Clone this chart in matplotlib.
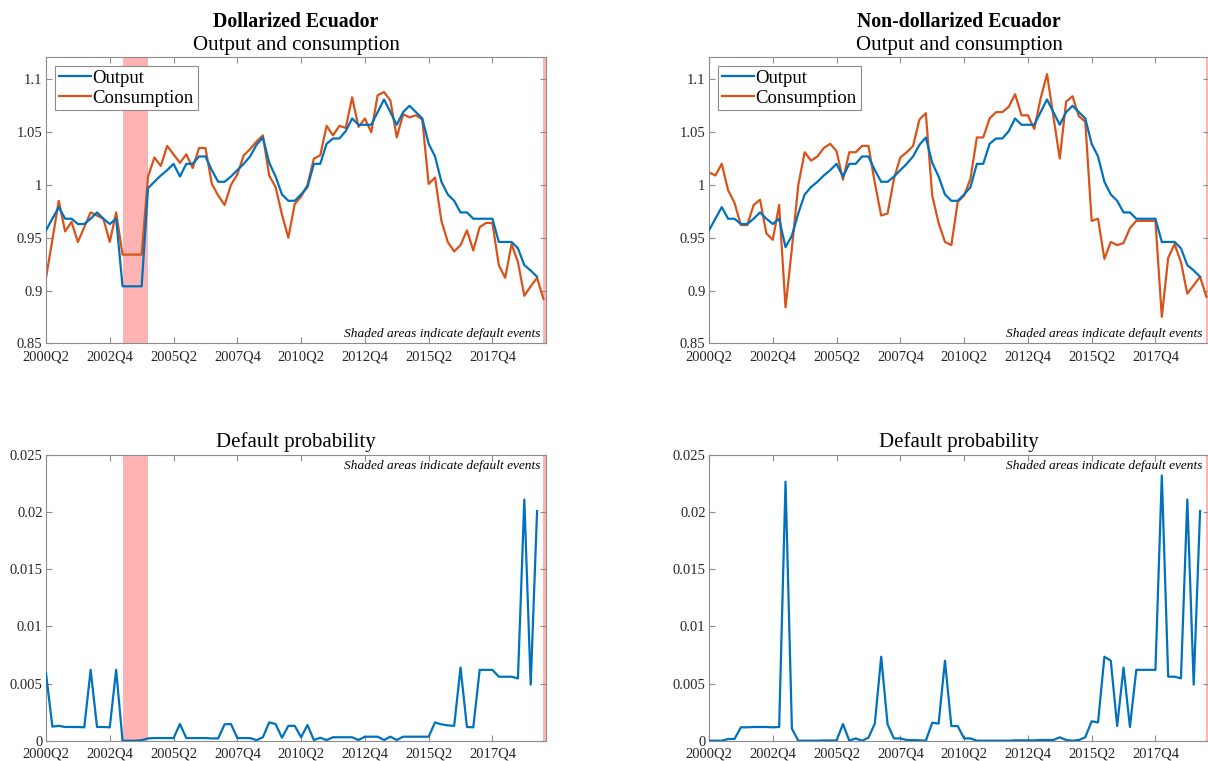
import numpy as np
import matplotlib
matplotlib.use("Agg")
import matplotlib.pyplot as plt

plt.rcParams['font.family'] = ['Liberation Serif', 'DejaVu Serif']
plt.rcParams['mathtext.fontset'] = 'stix'

nan = np.nan

# quarterly sample 2000Q2 .. 2019Q4 (79 quarters)
tick_pos = [0, 10, 20, 30, 40, 50, 60, 70]
tick_labels = ['2000Q2', '2002Q4', '2005Q2', '2007Q4', '2010Q2', '2012Q4', '2015Q2', '2017Q4']

output_dol = [0.957, 0.968, 0.979, 0.968, 0.968, 0.963, 0.963, 0.968, 0.974, 0.968,
              0.963, 0.968, 0.904, 0.904, 0.904, 0.904, 0.997, 1.003, 1.009, 1.014,
              1.020, 1.008, 1.020, 1.020, 1.027, 1.027, 1.014, 1.003, 1.003, 1.008,
              1.014, 1.020, 1.027, 1.038, 1.045, 1.021, 1.008, 0.991, 0.985, 0.985,
              0.991, 0.998, 1.020, 1.020, 1.039, 1.044, 1.044, 1.051, 1.063, 1.057,
              1.057, 1.057, 1.069, 1.081, 1.069, 1.057, 1.069, 1.075, 1.069, 1.063,
              1.039, 1.027, 1.003, 0.991, 0.985, 0.974, 0.974, 0.968, 0.968, 0.968,
              0.968, 0.946, 0.946, 0.946, 0.940, 0.924, 0.919, 0.913, nan]

output_nodol = [0.957, 0.968, 0.979, 0.968, 0.968, 0.963, 0.963, 0.968, 0.974, 0.968,
                0.963, 0.968, 0.941, 0.952, 0.973, 0.991, 0.998, 1.003, 1.009, 1.014,
                1.020, 1.008, 1.020, 1.020, 1.027, 1.027, 1.014, 1.003, 1.003, 1.008,
                1.014, 1.020, 1.027, 1.038, 1.045, 1.021, 1.008, 0.991, 0.985, 0.985,
                0.991, 0.998, 1.020, 1.020, 1.039, 1.044, 1.044, 1.051, 1.063, 1.057,
                1.057, 1.057, 1.069, 1.081, 1.069, 1.057, 1.069, 1.075, 1.069, 1.063,
                1.039, 1.027, 1.003, 0.991, 0.985, 0.974, 0.974, 0.968, 0.968, 0.968,
                0.968, 0.946, 0.946, 0.946, 0.940, 0.924, 0.919, 0.913, nan]

cons_dol = [0.912, 0.948, 0.985, 0.956, 0.965, 0.946, 0.960, 0.974, 0.971, 0.968,
            0.946, 0.974, 0.934, 0.934, 0.934, 0.934, 1.008, 1.026, 1.018, 1.037,
            1.029, 1.021, 1.029, 1.016, 1.035, 1.035, 1.001, 0.990, 0.981, 1.000,
            1.010, 1.028, 1.034, 1.041, 1.047, 1.009, 0.998, 0.972, 0.950, 0.982,
            0.989, 1.000, 1.025, 1.028, 1.056, 1.047, 1.056, 1.054, 1.083, 1.055,
            1.063, 1.050, 1.085, 1.088, 1.080, 1.045, 1.067, 1.064, 1.066, 1.062,
            1.001, 1.007, 0.966, 0.946, 0.937, 0.943, 0.957, 0.938, 0.960, 0.964,
            0.964, 0.924, 0.912, 0.944, 0.927, 0.895, 0.904, 0.912, 0.892]

cons_nodol = [1.012, 1.009, 1.020, 0.995, 0.983, 0.962, 0.962, 0.981, 0.986, 0.954,
              0.948, 0.981, 0.884, 0.940, 1.000, 1.031, 1.023, 1.027, 1.035, 1.039,
              1.032, 1.005, 1.031, 1.031, 1.037, 1.037, 1.002, 0.971, 0.973, 1.006,
              1.026, 1.031, 1.037, 1.062, 1.068, 0.990, 0.964, 0.946, 0.943, 0.984,
              0.990, 1.006, 1.045, 1.045, 1.063, 1.069, 1.069, 1.074, 1.086, 1.066,
              1.066, 1.053, 1.082, 1.105, 1.065, 1.025, 1.079, 1.084, 1.065, 1.060,
              0.966, 0.968, 0.930, 0.946, 0.943, 0.945, 0.959, 0.966, 0.966, 0.966,
              0.966, 0.875, 0.931, 0.944, 0.927, 0.897, 0.905, 0.913, 0.894]

prob_dol = [0.0059, 0.00123, 0.0013, 0.0012, 0.0012, 0.0012, 0.00117, 0.0062, 0.0012, 0.0012,
            0.00117, 0.0062, 0.0, 0.0, 0.0, 0.00005, 0.0002, 0.00023, 0.00023, 0.00023,
            0.00023, 0.00146, 0.00023, 0.00023, 0.00023, 0.00023, 0.0002, 0.0002, 0.00143, 0.00146,
            0.00023, 0.00023, 0.00023, 0.00005, 0.0003, 0.0016, 0.00146, 0.00026, 0.0013, 0.0013,
            0.0003, 0.00137, 0.00006, 0.00026, 0.00006, 0.0003, 0.0003, 0.0003, 0.0003, 0.00006,
            0.00035, 0.00035, 0.00035, 0.00006, 0.00035, 0.00006, 0.00035, 0.00035, 0.00035, 0.00035,
            0.00035, 0.0016, 0.00143, 0.00134, 0.0013, 0.0064, 0.0012, 0.00117, 0.0062, 0.0062,
            0.0062, 0.0056, 0.0056, 0.0056, 0.00545, 0.0211, 0.0049, 0.0201, nan]

prob_nodol = [0.0, 0.0, 0.0, 0.00015, 0.00015, 0.00117, 0.00117, 0.0012, 0.0012, 0.0012,
              0.00117, 0.0012, 0.02266, 0.00105, 0.0, 0.0, 0.0, 0.0, 0.00002, 0.00002,
              0.00002, 0.00146, 0.0, 0.0002, 0.0, 0.00026, 0.0015, 0.00735, 0.00143, 0.0002,
              0.0002, 0.00006, 0.00006, 0.00003, 0.0, 0.00157, 0.0015, 0.007, 0.00128, 0.00128,
              0.0002, 0.0002, 0.0, 0.0, 0.0, 0.0, 0.0, 0.0, 0.00003, 0.00003,
              0.00003, 0.00003, 0.00006, 0.00006, 0.00006, 0.0003, 0.00006, 0.0, 0.00006, 0.0003,
              0.0017, 0.0016, 0.00735, 0.007, 0.00128, 0.0064, 0.0012, 0.0062, 0.0062, 0.0062,
              0.0062, 0.0232, 0.0056, 0.0056, 0.00545, 0.0211, 0.0049, 0.0201, nan]

# quarters flagged as default (shaded)
default_dol = [12, 13, 14, 15, 78]
default_nodol = [78]

blue = '#0072BD'
orange = '#D95319'
shade = '#ffb3b3'
axcol = '#8c8c8c'
txtcol = '#262626'

t = np.arange(len(cons_dol))

fig = plt.figure(figsize=(12.08, 7.61), dpi=100)
W = 500 / 1208
H_top = 286.6 / 761
H_bot = 285.7 / 761
ax_tl = fig.add_axes([46 / 1208, 1 - 343.3 / 761, W, H_top])
ax_tr = fig.add_axes([709 / 1208, 1 - 343.3 / 761, W, H_top])
ax_bl = fig.add_axes([46 / 1208, 1 - 740.7 / 761, W, H_bot])
ax_br = fig.add_axes([709 / 1208, 1 - 740.7 / 761, W, H_bot])


def style(ax):
    ax.set_xlim(0, 78.4)
    ax.set_xticks(tick_pos)
    ax.set_xticklabels(tick_labels)
    ax.tick_params(direction='in', top=True, right=True, length=4, width=0.8,
                   color=axcol, labelcolor=txtcol, labelsize=10.5)
    ax.tick_params(axis='x', pad=5)
    ax.tick_params(axis='y', pad=2.5)
    for s in ax.spines.values():
        s.set_color(axcol)
        s.set_linewidth(0.8)


def shade_defaults(ax, quarters):
    for q in quarters:
        ax.axvspan(q, q + 1, color=shade, lw=0, zorder=0)


def note(ax, ypos):
    ax.text(0.988, ypos, 'Shaded areas indicate default events', transform=ax.transAxes,
            ha='right', va='baseline', style='italic', fontsize=9.6, color='black')


# output and consumption
for ax, out, cons, dq, name in [(ax_tl, output_dol, cons_dol, default_dol, 'Dollarized Ecuador'),
                                 (ax_tr, output_nodol, cons_nodol, default_nodol, 'Non-dollarized Ecuador')]:
    shade_defaults(ax, dq)
    ax.plot(t, out, color=blue, lw=1.6, label='Output', zorder=3)
    ax.plot(t, cons, color=orange, lw=1.6, label='Consumption', zorder=2)
    style(ax)
    ax.set_ylim(0.85, 1.1215)
    ax.set_yticks([0.85, 0.9, 0.95, 1.0, 1.05, 1.1])
    ax.set_yticklabels(['0.85', '0.9', '0.95', '1', '1.05', '1.1'])
    ax.text(0.5, 1.105, name, transform=ax.transAxes, ha='center', va='baseline',
            fontsize=14.2, fontweight='bold')
    ax.text(0.5, 1.022, 'Output and consumption', transform=ax.transAxes, ha='center',
            va='baseline', fontsize=15)
    leg = ax.legend(loc='upper left', bbox_to_anchor=(0.018, 0.968), fontsize=13.5,
                    frameon=True, fancybox=False, framealpha=1, edgecolor=axcol,
                    handlelength=1.7, handletextpad=0.1, borderpad=0.2,
                    labelspacing=0.15, borderaxespad=0)
    leg.get_frame().set_linewidth(0.8)
    note(ax, 0.022)

# default probability
for ax, prob, dq in [(ax_bl, prob_dol, default_dol), (ax_br, prob_nodol, default_nodol)]:
    shade_defaults(ax, dq)
    ax.plot(t, prob, color=blue, lw=1.6, zorder=3)
    style(ax)
    ax.set_ylim(0, 0.025)
    ax.set_yticks([0, 0.005, 0.01, 0.015, 0.02, 0.025])
    ax.set_yticklabels(['0', '0.005', '0.01', '0.015', '0.02', '0.025'])
    ax.text(0.5, 1.027, 'Default probability', transform=ax.transAxes, ha='center',
            va='baseline', fontsize=15)
    note(ax, 0.951)

fig.savefig('out.png', dpi=100)
